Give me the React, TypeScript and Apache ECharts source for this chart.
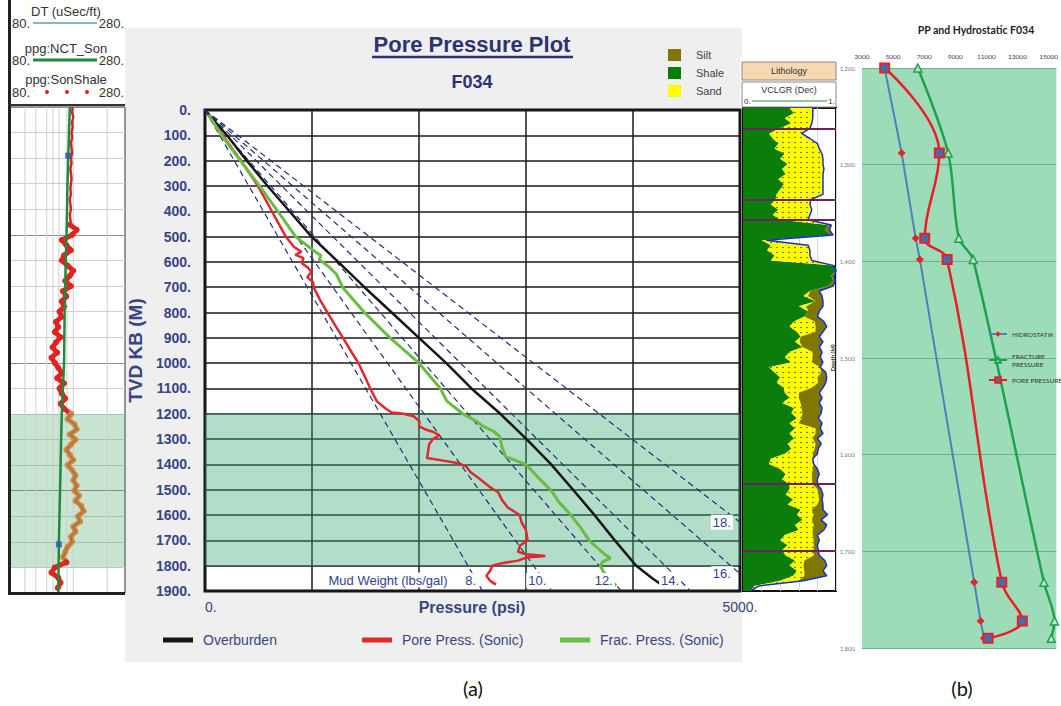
import React, { useEffect, useRef } from 'react';
import * as echarts from 'echarts';

const NAVY_TITLE = '#2d3372';
const NAVY = '#3a4484';
const SANS = '"Liberation Sans", Arial, sans-serif';
const CAL = 'Lato, "Open Sans", sans-serif';

// ---------- Pore pressure plot (pressure psi, TVD m) ----------
const overburden: [number, number][] = [
  [40, 20], [205, 100], [390, 200], [585, 300], [790, 400], [995, 500], [1245, 600], [1490, 700],
  [1745, 800], [2000, 900], [2255, 1000], [2490, 1100], [2760, 1200], [3005, 1300], [3235, 1400],
  [3440, 1500], [3640, 1600], [3830, 1700], [4030, 1800], [4180, 1850], [4300, 1885],
];
const porePressure: [number, number][] = [
  [30, 20], [165, 100], [335, 200], [495, 300], [625, 400], [755, 500], [830, 540], [900, 560],
  [845, 572], [920, 585], [905, 605], [960, 622], [995, 640], [955, 660], [1010, 680], [1015, 700],
  [1075, 750], [1145, 800], [1215, 850], [1290, 900], [1360, 950], [1435, 1000], [1490, 1050],
  [1545, 1100], [1605, 1150], [1690, 1180], [1745, 1195], [1855, 1200], [1950, 1210], [2005, 1230],
  [2000, 1250], [2060, 1262], [2135, 1272], [2190, 1285], [2130, 1300], [2095, 1320], [2085, 1350],
  [2075, 1375], [2225, 1385], [2370, 1395], [2445, 1410], [2480, 1430], [2575, 1460], [2665, 1490],
  [2740, 1510], [2775, 1540], [2830, 1570], [2940, 1600], [2960, 1630], [3000, 1660], [3015, 1700],
  [2945, 1720], [2925, 1745], [3000, 1755], [3180, 1762], [3000, 1768], [2925, 1780], [2775, 1790],
  [2685, 1800], [2665, 1820], [2630, 1840], [2665, 1860], [2720, 1875],
];
const fracPressure: [number, number][] = [
  [35, 20], [155, 100], [330, 200], [510, 300], [680, 400], [846, 500], [1030, 560], [1085, 575],
  [1066, 590], [1160, 620], [1230, 650], [1285, 700], [1490, 800], [1730, 900], [2000, 1000],
  [2200, 1100], [2260, 1150], [2410, 1200], [2540, 1230], [2600, 1250], [2700, 1270], [2755, 1290],
  [2775, 1330], [2810, 1370], [2905, 1385], [3000, 1400], [3110, 1450], [3230, 1500], [3310, 1550],
  [3420, 1600], [3510, 1650], [3590, 1700], [3695, 1740], [3750, 1760], [3790, 1770], [3715, 1785],
  [3695, 1800], [3730, 1830], [3790, 1860], [3845, 1878],
];
const mudWeights = [8, 10, 12, 14, 16, 18];
const PSI_PER_M_PER_PPG = 0.052 * 3.28084;
const MAX_PSI = 5000;
const MAX_TVD = 1900;

// ---------- Sonic log track (80-280 scale) ----------
const logGridValues = [106, 125, 144, 155, 165, 179, 190, 249];
const nctSon: [number, number][] = [
  [184, 0], [182, 150], [180, 300], [178.5, 480], [177, 600], [175, 800], [174, 1000], [171, 1150],
  [170, 1200], [168, 1400], [167, 1500], [166, 1600], [165, 1700], [164, 1900],
];
const nctPicks: [number, number][] = [[181, 190], [165, 1710]];
// shallow sonic, every 20 m from 0 m
const sonicTop = [189, 188, 190, 188, 189, 187, 188, 186, 187, 188, 186, 187, 185, 186, 187, 186, 185, 186, 184, 185, 186, 184, 185, 186];
// shale sonic points, every 20 m from 460 m
const sonShale = [
  184, 196, 188, 170, 178, 186, 174, 170, 180, 190, 184, 176, 186, 172, 178, 170, 174, 166, 170, 160,
  164, 158, 168, 160, 154, 162, 152, 158, 164, 170, 162, 174, 166, 170, 176, 168, 174,
  186, 180, 192, 196, 184, 194, 186, 178, 184, 190, 180, 188, 194, 190, 196, 192, 200, 194, 204, 208,
  198, 202, 190, 194, 186, 188, 180, 176, 172, 178,
  158, 152, 164, 168, 163,
];
const SON_START = 460;

// ---------- Lithology track (fractions, every 20 m) ----------
const lithDepths = Array.from({ length: 96 }, (_, i) => String(i * 20));
const shaleFrac = [
  0.50, 0.55, 0.45, 0.52, 0.40,
  0.28, 0.32,
  0.38, 0.34, 0.45, 0.40, 0.48, 0.42, 0.46, 0.38, 0.44, 0.40, 0.36,
  0.35, 0.30, 0.38, 0.32, 0.40,
  0.92, 0.88, 0.95,
  0.20,
  0.30, 0.26, 0.34, 0.30,
  0.98, 1.00, 0.95, 0.97, 0.92,
  0.72, 0.65, 0.78, 0.60, 0.70, 0.66,
  0.55, 0.50, 0.58,
  0.62, 0.56, 0.64,
  0.50, 0.45, 0.52,
  0.28, 0.34, 0.40, 0.36, 0.44,
  0.45, 0.50, 0.42,
  0.55, 0.52, 0.58, 0.50,
  0.56, 0.50, 0.55, 0.48, 0.52,
  0.45, 0.30, 0.28, 0.40, 0.46, 0.42, 0.50,
  0.50, 0.46, 0.54, 0.48,
  0.62, 0.58, 0.64, 0.56, 0.60,
  0.45, 0.40, 0.48, 0.42, 0.46,
  0.56, 0.50, 0.58, 0.54,
  0.40, 0.12, 0.08,
];
const sandFrac = [
  0.25, 0.20, 0.30, 0.22, 0.32,
  0.35, 0.40,
  0.42, 0.48, 0.40, 0.46, 0.38, 0.45, 0.40, 0.48, 0.42, 0.46, 0.50,
  0.38, 0.42, 0.36, 0.40, 0.30,
  0, 0, 0,
  0.05,
  0.40, 0.46, 0.38, 0.44,
  0, 0, 0, 0, 0,
  0, 0.05, 0, 0.08, 0, 0,
  0.22, 0.28, 0.20,
  0, 0.05, 0,
  0.25, 0.30, 0.22,
  0.55, 0.50, 0.40, 0.45, 0.30,
  0.15, 0.10, 0.20,
  0.08, 0.12, 0.05, 0.10,
  0.22, 0.28, 0.20, 0.30, 0.25,
  0.30, 0.45, 0.48, 0.35, 0.28, 0.32, 0.25,
  0.30, 0.35, 0.28, 0.32,
  0.12, 0.18, 0.10, 0.20, 0.15,
  0.30, 0.36, 0.28, 0.34, 0.30,
  0.10, 0.15, 0.08, 0.12,
  0.20, 0.05, 0,
];
const siltFrac = [
  0, 0, 0, 0, 0,
  0, 0,
  0, 0, 0, 0, 0, 0, 0, 0, 0, 0, 0,
  0, 0, 0, 0, 0,
  0.03, 0.05, 0.02,
  0,
  0, 0, 0, 0,
  0, 0, 0.03, 0.02, 0.05,
  0.10, 0.15, 0.08, 0.18, 0.12, 0.14,
  0.10, 0.12, 0.08,
  0.20, 0.25, 0.18,
  0.10, 0.08, 0.12,
  0, 0.05, 0.10, 0.08, 0.12,
  0.22, 0.25, 0.20,
  0.22, 0.20, 0.18, 0.25,
  0.05, 0.08, 0.05, 0.06, 0.04,
  0.05, 0, 0, 0.05, 0.08, 0.06, 0.05,
  0.04, 0.05, 0.03, 0.06,
  0.12, 0.15, 0.10, 0.14, 0.12,
  0.05, 0.06, 0.04, 0.05, 0.06,
  0.22, 0.25, 0.20, 0.24,
  0.05, 0, 0,
];
const formationTops = ['80', '360', '440', '1480', '1740'];

// ---------- PP and hydrostatic F034 ----------
const ppDepths = [1200, 1288, 1376, 1398, 1732, 1772, 1790];
const hydrostatic = [4450, 5550, 6450, 6720, 10215, 10630, 10840];
const fracture = [6590, 8540, 9230, 10150, 14700, 15380, 15170];
const porePP = [4460, 7975, 7035, 8475, 11990, 13310, 11110];

const sandPattern = {
  image:
    'data:image/svg+xml;charset=utf-8,' +
    encodeURIComponent(
      '<svg xmlns="http://www.w3.org/2000/svg" width="6" height="5"><rect width="6" height="5" fill="#ffff00"/><circle cx="3" cy="2.5" r="0.75" fill="#333"/></svg>'
    ),
  repeat: 'repeat',
  imageWidth: 6,
  imageHeight: 5,
};

function mudWeightEnd(mw: number): [number, number] {
  const g = PSI_PER_M_PER_PPG * mw;
  return g * MAX_TVD <= MAX_PSI ? [g * MAX_TVD, MAX_TVD] : [MAX_PSI, MAX_PSI / g];
}

function mudWeightLabel(mw: number): [number, number] {
  const g = PSI_PER_M_PER_PPG * mw;
  return g * MAX_TVD <= MAX_PSI ? [g * 1820, 1858] : [4830, MAX_PSI / g];
}

function txt(text: string, x: number, y: number, opts: any = {}) {
  return {
    type: 'text',
    x,
    y,
    z: 100,
    silent: true,
    style: {
      text,
      fill: opts.fill ?? '#333',
      fontSize: opts.fontSize ?? 13,
      fontWeight: opts.fontWeight ?? 'normal',
      fontFamily: opts.fontFamily ?? SANS,
      align: opts.align ?? 'center',
      verticalAlign: 'middle',
      backgroundColor: opts.backgroundColor,
      padding: opts.padding,
    },
  };
}

function buildOption(): any {
  const sonTopData = sonicTop.map((v, i) => [v, i * 20]);
  const sonData = sonShale.map((v, i) => [v, SON_START + i * 20]);
  const sonUpper = sonData.filter((p) => p[1] <= 1200);
  const sonMid = sonData.filter((p) => p[1] >= 1200 && p[1] <= 1780);
  const sonLower = sonData.filter((p) => p[1] >= 1780);

  const series: any[] = [];

  // ----- sonic log track (grid 0)
  logGridValues.forEach((v, i) => {
    series.push({
      type: 'line',
      xAxisIndex: 0,
      yAxisIndex: 0,
      data: [[v, 0], [v, MAX_TVD]],
      symbol: 'none',
      silent: true,
      z: 1,
      lineStyle: { color: '#cdcdcd', width: 1 },
      markArea:
        i === 0
          ? {
              silent: true,
              itemStyle: { color: 'rgba(70,170,100,0.3)' },
              data: [[{ yAxis: 1200 }, { yAxis: 1800 }]],
            }
          : undefined,
    });
  });
  series.push({
    name: 'SonicTop', type: 'line', xAxisIndex: 0, yAxisIndex: 0, data: sonTopData,
    symbol: 'none', z: 3, lineStyle: { color: '#d0262a', width: 2.5 },
  });
  const blob = (data: number[][], color: string) => ({
    type: 'line', xAxisIndex: 0, yAxisIndex: 0, data, z: 3,
    symbol: 'circle', symbolSize: 6, showSymbol: true,
    itemStyle: { color }, lineStyle: { color, width: 5 },
  });
  series.push(blob(sonUpper, '#e0241f'));
  series.push(blob(sonMid, '#d9843b'));
  series.push(blob(sonLower, '#e0241f'));
  series.push({
    name: 'DT', type: 'line', xAxisIndex: 0, yAxisIndex: 0, data: sonMid, symbol: 'none', z: 4,
    lineStyle: { color: '#3d7566', width: 0.8 },
  });
  series.push({
    name: 'NCT', type: 'line', xAxisIndex: 0, yAxisIndex: 0, data: nctSon, symbol: 'none', z: 5,
    lineStyle: { color: '#1f8a3c', width: 2.5 },
  });
  series.push({
    type: 'scatter', xAxisIndex: 0, yAxisIndex: 0, data: nctPicks, symbol: 'rect', symbolSize: 6, z: 6,
    itemStyle: { color: '#2a57b0' },
  });

  // ----- pore pressure plot (grid 1)
  mudWeights.forEach((mw) => {
    series.push({
      type: 'line', xAxisIndex: 1, yAxisIndex: 1, data: [[0, 0], mudWeightEnd(mw)], symbol: 'none',
      silent: true, z: 2, lineStyle: { color: '#22307a', width: 1.2, type: [6, 4] },
    });
  });
  series.push({
    type: 'scatter', xAxisIndex: 1, yAxisIndex: 1, z: 8, silent: true, symbol: 'circle', symbolSize: 2,
    itemStyle: { color: 'rgba(255,255,255,0)' },
    data: mudWeights.map((mw) => ({ value: mudWeightLabel(mw), name: mw + '.' })),
    label: {
      show: true, position: 'inside', formatter: '{b}', color: '#2f3f96', opacity: 1, fontSize: 13,
      fontFamily: SANS, backgroundColor: '#fff', padding: [1, 2],
    },
  });
  series.push({
    name: 'Overburden', type: 'line', xAxisIndex: 1, yAxisIndex: 1, data: overburden, symbol: 'none',
    z: 4, color: '#161616', lineStyle: { color: '#161616', width: 2.5 },
    markArea: {
      silent: true,
      itemStyle: { color: 'rgba(60,170,120,0.4)' },
      data: [[{ yAxis: 1200 }, { yAxis: 1800 }]],
    },
  });
  series.push({
    name: 'Pore Press. (Sonic)', type: 'line', xAxisIndex: 1, yAxisIndex: 1, data: porePressure,
    symbol: 'none', z: 4, color: '#e1282d', lineStyle: { color: '#e1282d', width: 2.5 },
  });
  series.push({
    name: 'Frac. Press. (Sonic)', type: 'line', xAxisIndex: 1, yAxisIndex: 1, data: fracPressure,
    symbol: 'none', z: 4, color: '#69bd45', lineStyle: { color: '#69bd45', width: 3 },
  });

  // ----- lithology track (grid 2)
  series.push({
    name: 'Shale', type: 'line', xAxisIndex: 2, yAxisIndex: 2, stack: 'lith', data: shaleFrac,
    symbol: 'none', z: 2, color: '#008000', itemStyle: { color: '#008000' },
    lineStyle: { width: 0 }, areaStyle: { color: '#0a7d0a', opacity: 1 },
  });
  series.push({
    name: 'Sand', type: 'line', xAxisIndex: 2, yAxisIndex: 2, stack: 'lith', data: sandFrac,
    symbol: 'none', z: 2, color: '#ffff00', itemStyle: { color: '#ffff00' },
    lineStyle: { width: 0 }, areaStyle: { color: sandPattern, opacity: 1 },
  });
  series.push({
    name: 'Silt', type: 'line', xAxisIndex: 2, yAxisIndex: 2, stack: 'lith', data: siltFrac,
    symbol: 'none', z: 3, color: '#7f7700', itemStyle: { color: '#7f7700' },
    lineStyle: { color: '#1a2fd0', width: 1.5 }, areaStyle: { color: '#7f7700', opacity: 1 },
    markLine: {
      silent: true, symbol: ['none', 'none'], label: { show: false },
      lineStyle: { color: '#6e2060', width: 2, type: 'solid' },
      data: formationTops.map((d) => ({ yAxis: d })),
    },
  });

  // ----- PP and hydrostatic (grid 3)
  series.push({
    name: 'HIDROSTATIK', type: 'line', xAxisIndex: 3, yAxisIndex: 3,
    data: hydrostatic.map((v, i) => [v, ppDepths[i]]), symbol: 'diamond', symbolSize: 8, z: 3,
    itemStyle: { color: '#e3262b' }, lineStyle: { color: '#4f81bd', width: 2 },
  });
  series.push({
    name: 'FRACTURE PRESSURE', type: 'line', xAxisIndex: 3, yAxisIndex: 3, smooth: 0.3,
    data: fracture.map((v, i) => [v, ppDepths[i]]), symbol: 'triangle', symbolSize: 8, z: 3,
    itemStyle: { color: '#b9e6c6', borderColor: '#1fa24e', borderWidth: 1.5 },
    lineStyle: { color: '#1fa24e', width: 2.5 },
  });
  series.push({
    name: 'PORE PRESSURE', type: 'line', xAxisIndex: 3, yAxisIndex: 3, smooth: 0.4,
    data: porePP.map((v, i) => [v, ppDepths[i]]), symbol: 'rect', symbolSize: 9, z: 4,
    itemStyle: { color: '#3f6fae', borderColor: '#ee1c25', borderWidth: 2 },
    lineStyle: { color: '#ee1c25', width: 2.5 },
  });

  const mainLegend = (name: string, left: number) => ({
    data: [name], left, top: 633, padding: 0, icon: 'rect', itemWidth: 30, itemHeight: 5,
    selectedMode: false,
    textStyle: { color: NAVY, fontSize: 14, fontFamily: SANS, padding: [0, 0, 0, 5] },
  });
  const ppLegend = (name: string, top: number, formatter?: string) => ({
    data: [name], left: 988, top, padding: 0, itemWidth: 18, itemHeight: 7, selectedMode: false,
    formatter: formatter ?? '{name}',
    textStyle: { color: '#333', fontSize: 6.5, fontFamily: CAL, lineHeight: 8 },
  });

  const graphic: any[] = [
    // panel backgrounds
    { type: 'rect', z: -1, silent: true, shape: { x: 8, y: 0, width: 117, height: 105 }, style: { fill: '#fff' } },
    { type: 'rect', z: -1, silent: true, shape: { x: 125, y: 28, width: 617, height: 634 }, style: { fill: '#efefef' } },
    { type: 'rect', z: -1, silent: true, shape: { x: 740, y: 57, width: 98, height: 538 }, style: { fill: '#fff' } },
    // log track frame
    { type: 'line', z: 50, silent: true, shape: { x1: 9.5, y1: 0, x2: 9.5, y2: 595 }, style: { stroke: '#222', lineWidth: 3 } },
    { type: 'line', z: 50, silent: true, shape: { x1: 8, y1: 593.5, x2: 125, y2: 593.5 }, style: { stroke: '#222', lineWidth: 3 } },
    { type: 'line', z: 50, silent: true, shape: { x1: 8, y1: 105, x2: 125, y2: 105 }, style: { stroke: '#333', lineWidth: 2 } },
    // log header
    txt('DT (uSec/ft)', 66, 11),
    txt('80.', 12, 23, { align: 'left' }),
    txt('280.', 124, 23, { align: 'right' }),
    { type: 'line', z: 50, silent: true, shape: { x1: 33, y1: 23, x2: 97, y2: 23 }, style: { stroke: '#5aa5a5', lineWidth: 1.5 } },
    txt('ppg:NCT_Son', 66, 48),
    txt('80.', 12, 60, { align: 'left' }),
    txt('280.', 124, 60, { align: 'right' }),
    { type: 'line', z: 50, silent: true, shape: { x1: 33, y1: 60, x2: 97, y2: 60 }, style: { stroke: '#1e8a3c', lineWidth: 3 } },
    txt('ppg:SonShale', 66, 79),
    txt('80.', 12, 92, { align: 'left' }),
    txt('280.', 124, 92, { align: 'right' }),
    ...[47, 67, 87].map((cx) => ({
      type: 'circle', z: 50, silent: true, shape: { cx, cy: 92, r: 2 }, style: { fill: '#e02020' },
    })),
    // titles
    txt('Pore Pressure Plot', 472, 44, { fontSize: 22, fontWeight: 'bold', fill: NAVY_TITLE }),
    { type: 'line', z: 50, silent: true, shape: { x1: 372, y1: 57, x2: 573, y2: 57 }, style: { stroke: NAVY_TITLE, lineWidth: 2.5 } },
    txt('F034', 472, 82, { fontSize: 18, fontWeight: 'bold', fill: NAVY_TITLE }),
    txt('Pressure (psi)', 472, 607, { fontSize: 16, fontWeight: 'bold', fill: NAVY }),
    txt('Mud Weight (lbs/gal)', 388, 580, { fontSize: 13, fill: '#2f3f96', backgroundColor: '#fff', padding: [1, 3] }),
    // lithology header
    { type: 'rect', z: 40, silent: true, shape: { x: 742, y: 62, width: 94, height: 18 }, style: { fill: '#f8d8b0', stroke: '#8a8a8a', lineWidth: 1 } },
    txt('Lithology', 789, 71, { fontSize: 9 }),
    { type: 'rect', z: 40, silent: true, shape: { x: 742, y: 82, width: 94, height: 25 }, style: { fill: '#fff', stroke: '#8a8a8a', lineWidth: 1 } },
    txt('VCLGR (Dec)', 789, 90, { fontSize: 9 }),
    txt('0.', 744, 101, { fontSize: 8, align: 'left' }),
    txt('1.', 835, 101, { fontSize: 8, align: 'right' }),
    { type: 'line', z: 50, silent: true, shape: { x1: 752, y1: 101, x2: 827, y2: 101 }, style: { stroke: '#2a8a3a', lineWidth: 1 } },
    // right chart title and captions
    txt('PP and Hydrostatic F034', 976, 30, { fontSize: 10.5, fontWeight: 'bold', fontFamily: CAL, fill: '#222' }),
    txt('(a)', 473, 688, { fontSize: 20, fontFamily: CAL, fill: '#111' }),
    txt('(b)', 962, 688, { fontSize: 20, fontFamily: CAL, fill: '#111' }),
  ];

  return {
    animation: false,
    backgroundColor: '#fff',
    textStyle: { fontFamily: SANS },
    grid: [
      { left: 10, top: 107, width: 115, height: 486, show: true, backgroundColor: '#fff', borderColor: '#333', borderWidth: 1 },
      { left: 205, top: 110, width: 535, height: 481, show: true, backgroundColor: '#fff', borderColor: '#111', borderWidth: 3 },
      { left: 743, top: 108, width: 93, height: 483, show: true, backgroundColor: '#fff', borderColor: '#111', borderWidth: 2 },
      { left: 862, top: 68, width: 199, height: 580, show: true, backgroundColor: '#9cdcb8', borderWidth: 0 },
    ],
    xAxis: [
      {
        gridIndex: 0, type: 'value', min: 80, max: 280,
        axisLine: { show: false }, axisTick: { show: false }, axisLabel: { show: false }, splitLine: { show: false },
      },
      {
        gridIndex: 1, type: 'value', min: 0, max: MAX_PSI, interval: 1000,
        axisLine: { show: false }, axisTick: { show: false },
        axisLabel: {
          margin: 9, color: NAVY, fontSize: 14, fontFamily: SANS, alignMinLabel: 'left',
          formatter: (v: number) => (v === 0 || v === MAX_PSI ? v + '.' : ''),
        },
        splitLine: { show: true, lineStyle: { color: '#1a1a1a', width: 1.5 } },
      },
      {
        gridIndex: 2, type: 'value', min: 0, max: 1, interval: 0.2,
        axisLine: { show: false }, axisTick: { show: false }, axisLabel: { show: false },
        splitLine: { show: true, lineStyle: { color: '#d4d4d4', width: 1 } },
      },
      {
        gridIndex: 3, type: 'value', position: 'top', min: 3000, max: 15500, interval: 1000,
        axisLine: { show: false }, axisTick: { show: false }, splitLine: { show: false },
        axisLabel: {
          margin: 8, color: '#444', fontSize: 6.5, fontFamily: CAL,
          formatter: (v: number) => (v % 2000 === 1000 ? String(v) : ''),
        },
      },
    ],
    yAxis: [
      {
        gridIndex: 0, type: 'value', min: 0, max: MAX_TVD, interval: 100, inverse: true,
        axisLine: { show: false }, axisTick: { show: false }, axisLabel: { show: false },
        splitLine: { show: true, lineStyle: { color: ['#8c8c8c', '#cfcfcf', '#cfcfcf', '#cfcfcf', '#cfcfcf'], width: 1 } },
      },
      {
        gridIndex: 1, type: 'value', min: 0, max: MAX_TVD, interval: 100, inverse: true,
        axisLine: { show: false }, axisTick: { show: false },
        axisLabel: { margin: 14, color: NAVY, fontSize: 14, fontWeight: 'bold', fontFamily: SANS, formatter: (v: number) => v + '.' },
        splitLine: { show: true, lineStyle: { color: '#1a1a1a', width: 1.5 } },
        name: 'TVD KB (M)', nameLocation: 'middle', nameGap: 58,
        nameTextStyle: { color: NAVY, fontSize: 19, fontWeight: 'bold', fontFamily: SANS },
      },
      {
        gridIndex: 2, type: 'category', data: lithDepths, inverse: true, boundaryGap: false,
        axisLine: { show: false }, axisTick: { show: false }, axisLabel: { show: false }, splitLine: { show: false },
      },
      {
        gridIndex: 3, type: 'value', min: 1200, max: 1800, interval: 100, inverse: true,
        axisLine: { show: false }, axisTick: { show: false },
        axisLabel: { margin: 7, color: '#777', fontSize: 6, fontFamily: CAL },
        splitLine: { show: true, lineStyle: { color: '#74ad8e', width: 1 } },
        name: 'Depth (M)', nameLocation: 'middle', nameGap: 12,
        nameTextStyle: { color: '#333', fontSize: 6, fontWeight: 'bold', fontFamily: CAL },
      },
    ],
    legend: [
      mainLegend('Overburden', 163),
      mainLegend('Pore Press. (Sonic)', 362),
      mainLegend('Frac. Press. (Sonic)', 560),
      {
        data: ['Silt', 'Shale', 'Sand'], left: 668, top: 49, padding: 0, orient: 'vertical', icon: 'rect',
        itemWidth: 13, itemHeight: 12, itemGap: 6, selectedMode: false,
        textStyle: { color: '#444', fontSize: 11, fontFamily: SANS, padding: [0, 0, 0, 10] },
      },
      ppLegend('HIDROSTATIK', 330),
      ppLegend('FRACTURE PRESSURE', 352, 'FRACTURE\nPRESSURE'),
      ppLegend('PORE PRESSURE', 376),
    ],
    graphic,
    series,
  };
}

export default function App() {
  const ref = useRef<HTMLDivElement>(null);
  useEffect(() => {
    if (!ref.current) return;
    const chart = echarts.init(ref.current, null, { renderer: 'svg' });
    chart.setOption(buildOption());
    return () => chart.dispose();
  }, []);
  return (
    <div
      ref={ref}
      style={{ position: 'fixed', left: 0, top: 0, width: 1061, height: 706, background: '#fff' }}
    />
  );
}
